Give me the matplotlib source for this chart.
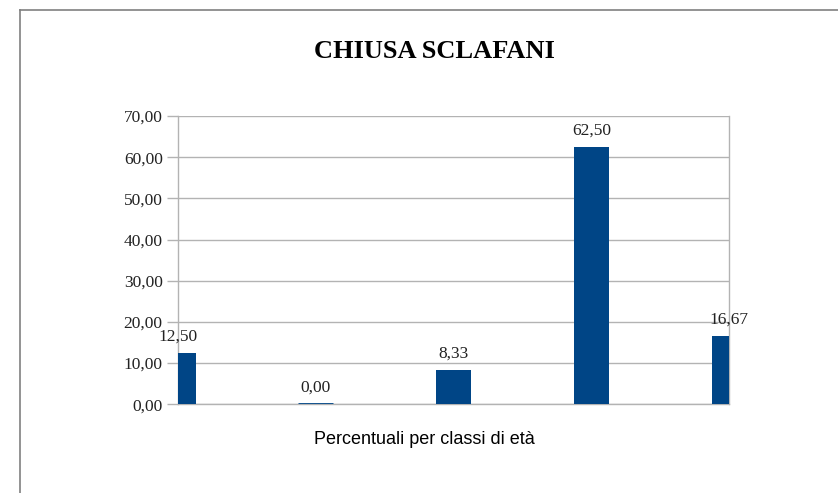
import matplotlib
matplotlib.use("Agg")
import matplotlib.pyplot as plt
from matplotlib.lines import Line2D

categories = ["0-14", "15-29", "30-44", "45-64", "65+"]
values = [12.50, 0.00, 8.33, 62.50, 16.67]
yticks = [0, 10, 20, 30, 40, 50, 60, 70]
title = "CHIUSA SCLAFANI"
xlabel = "Percentuali per classi di età"

W, H = 838, 493
fig = plt.figure(figsize=(W / 100, H / 100), dpi=100)
fig.patch.set_facecolor("white")

ax = fig.add_axes([178 / W, 1 - 404.3 / H, (729.3 - 178) / W, (404.3 - 116) / H])
x = list(range(len(categories)))
bar_color = "#004586"
bw = 0.254
ax.bar(x, values, width=bw, color=bar_color, linewidth=0, zorder=3)
# zero-valued bars drawn as a thin line like the original
for xi, v in zip(x, values):
    if v == 0:
        ax.plot([xi - bw / 2, xi + bw / 2], [v, v], color=bar_color,
                linewidth=2.0, zorder=4, solid_capstyle="butt")
ax.set_xlim(0, len(categories) - 1)
ax.set_ylim(0, 70)
ax.set_yticks(yticks)
ax.set_yticklabels([f"{v:.2f}".replace(".", ",") for v in yticks],
                   family="Liberation Serif", fontsize=12.5, color="#222222")
ax.set_xticks([])
ax.grid(axis="y", color="#b3b3b3", linewidth=1.0, zorder=0)
for s in ax.spines.values():
    s.set_color("#b3b3b3")
    s.set_linewidth(1.0)
ax.spines["top"].set_visible(False)
ax.tick_params(axis="y", length=8, color="#b3b3b3", width=1.0, pad=3)

for xi, v in zip(x, values):
    ax.annotate(f"{v:.2f}".replace(".", ","), (xi, v), xytext=(0, 6),
                textcoords="offset points", ha="center", va="bottom",
                family="Liberation Serif", fontsize=12.5, color="#222222",
                annotation_clip=False, zorder=4)

fig.text(434 / W, 1 - 52 / H, title, ha="center", va="center",
         family="Liberation Serif", fontweight="bold", fontsize=19, color="black")
fig.text(424 / W, 1 - 440 / H, xlabel, ha="center", va="center",
         family="Liberation Sans", fontsize=13, color="black")

fig.add_artist(Line2D([20 / W, 20 / W], [0, 1 - 10 / H], transform=fig.transFigure,
                      color="#808080", linewidth=1.2))
fig.add_artist(Line2D([20 / W, 1], [1 - 10 / H, 1 - 10 / H], transform=fig.transFigure,
                      color="#808080", linewidth=1.2))

fig.savefig("out.png", dpi=100, facecolor="white")
